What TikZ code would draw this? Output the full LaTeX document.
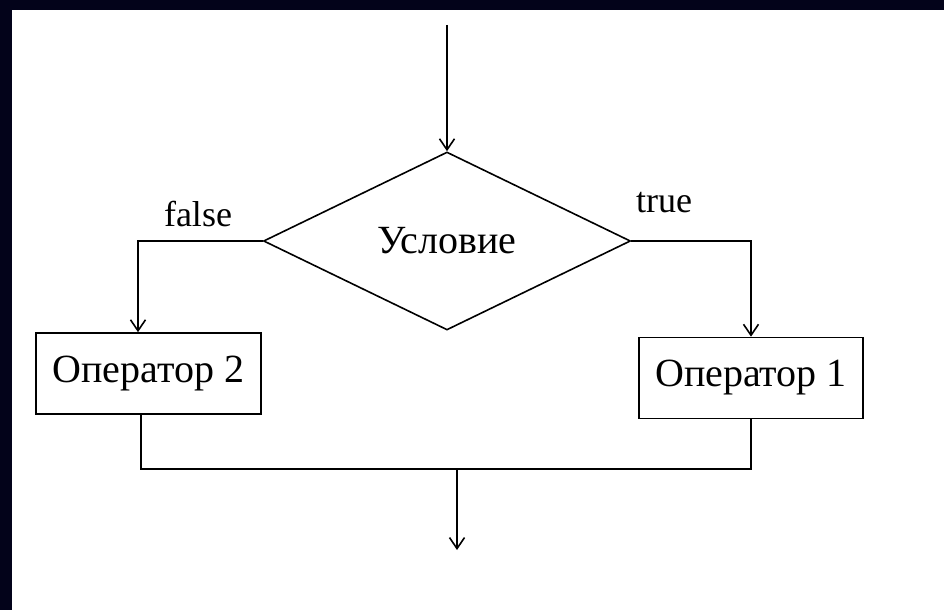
\documentclass[tikz,border=0pt]{standalone}
\usepackage{fontspec}
\setmainfont{Liberation Serif}
\usepackage{tikz}
\usetikzlibrary{arrows.meta}
\usetikzlibrary{shapes.geometric}
\definecolor{frame}{RGB}{3,3,26}
\tikzstyle{box}=[draw,line width=1.6pt,minimum height=81pt,inner sep=0pt,font=\fontsize{40}{48}\selectfont]
\tikzstyle{to}=[-{Straight Barb[length=11pt,width=15pt]},line width=1.6pt]

\begin{document}
\begin{tikzpicture}[x=1pt,y=1pt]
\tikzstyle{cond}=[diamond,aspect=2.06,draw,line width=1.6pt,minimum width=367pt,minimum height=178pt,inner sep=0pt,font=\fontsize{40}{48}\selectfont]
\tikzstyle{lbl}=[anchor=base,inner sep=0pt,font=\fontsize{36}{42}\selectfont]
\useasboundingbox (0,0) rectangle (944,610);
\fill[white] (0,0) rectangle (944,610);
\fill[frame] (0,0) rectangle (12,610);
\fill[frame] (0,600) rectangle (944,610);
\coordinate (A) at (447,585);
\node (B) [cond] at (447,369) {Условие};
\node (C) [box, minimum width=225pt] at (148.5,236.5) {Оператор 2};
\node (D) [box, minimum width=224pt] at (751,232) {Оператор 1};
\coordinate (E) at (457,141);
\coordinate (F) at (457,60);
\node (G) [lbl] at (198,383) {false};
\node (H) [lbl] at (664,397) {true};
\draw [to] (A) -- (B.north);
\draw [to] (B.west) -| ([xshift=-10.5pt]C.north);
\draw [to] (B.east) -| (D.north);
\draw [line width=1.6pt] ([xshift=-7.5pt]C.south) |- (E) -| (D.south);
\draw [to] (E) -- (F);
\end{tikzpicture}
\end{document}
